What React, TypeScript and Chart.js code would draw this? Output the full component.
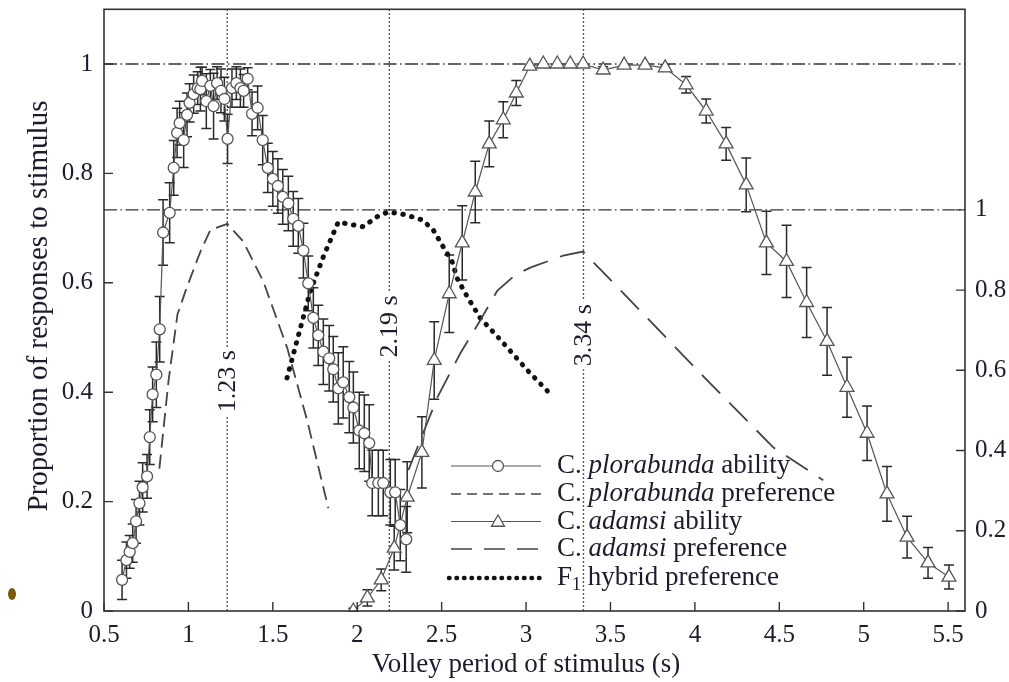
import React, { useEffect, useRef } from 'react';
import { Chart, registerables } from 'chart.js';

Chart.register(...registerables);

// ---------- data ----------
const plorX = [0.607, 0.633, 0.652, 0.670, 0.690, 0.710, 0.729, 0.755, 0.771, 0.788, 0.810, 0.830, 0.850, 0.889, 0.913, 0.933, 0.948, 0.972, 0.992, 1.007, 1.031, 1.055, 1.071, 1.081, 1.106, 1.130, 1.149, 1.170, 1.193, 1.213, 1.232, 1.258, 1.284, 1.308, 1.327, 1.351, 1.377, 1.410, 1.440, 1.470, 1.500, 1.530, 1.559, 1.592, 1.621, 1.651, 1.681, 1.710, 1.740, 1.769, 1.799, 1.834, 1.858, 1.888, 1.917, 1.953, 1.977, 2.012, 2.042, 2.071, 2.089, 2.125, 2.154, 2.196, 2.225, 2.255, 2.290];
const plorY = [0.057, 0.093, 0.108, 0.124, 0.164, 0.197, 0.226, 0.246, 0.318, 0.396, 0.432, 0.515, 0.692, 0.728, 0.810, 0.874, 0.892, 0.861, 0.907, 0.929, 0.945, 0.956, 0.954, 0.969, 0.932, 0.960, 0.923, 0.965, 0.951, 0.936, 0.863, 0.956, 0.965, 0.956, 0.951, 0.973, 0.909, 0.920, 0.861, 0.810, 0.790, 0.777, 0.757, 0.745, 0.717, 0.704, 0.659, 0.599, 0.536, 0.504, 0.474, 0.462, 0.442, 0.407, 0.418, 0.391, 0.372, 0.330, 0.325, 0.307, 0.234, 0.234, 0.234, 0.217, 0.217, 0.157, 0.131];
const plorErr = [0.036, 0.033, 0.03, 0.035, 0.04, 0.04, 0.045, 0.04, 0.05, 0.05, 0.06, 0.06, 0.06, 0.055, 0.05, 0.045, 0.04, 0.05, 0.04, 0.035, 0.035, 0.03, 0.04, 0.025, 0.05, 0.03, 0.06, 0.03, 0.04, 0.04, 0.045, 0.035, 0.03, 0.035, 0.03, 0.02, 0.04, 0.04, 0.045, 0.045, 0.05, 0.05, 0.05, 0.05, 0.05, 0.05, 0.05, 0.05, 0.055, 0.055, 0.06, 0.06, 0.06, 0.065, 0.065, 0.065, 0.065, 0.07, 0.07, 0.07, 0.06, 0.06, 0.06, 0.06, 0.06, 0.065, 0.06];

const adX = [1.977, 2.060, 2.142, 2.219, 2.296, 2.383, 2.456, 2.545, 2.622, 2.699, 2.782, 2.865, 2.942, 3.022, 3.102, 3.185, 3.262, 3.338, 3.457, 3.581, 3.705, 3.824, 3.948, 4.067, 4.185, 4.304, 4.424, 4.543, 4.662, 4.783, 4.901, 5.020, 5.138, 5.257, 5.381, 5.505];
const adY = [0.0, 0.024, 0.057, 0.115, 0.208, 0.290, 0.458, 0.580, 0.673, 0.766, 0.854, 0.898, 0.947, 0.996, 1.0, 1.0, 1.0, 1.0, 0.989, 0.998, 0.998, 0.993, 0.962, 0.914, 0.854, 0.779, 0.673, 0.639, 0.564, 0.493, 0.409, 0.325, 0.214, 0.135, 0.088, 0.062];
const adErr = [0.005, 0.015, 0.02, 0.04, 0.065, 0.065, 0.071, 0.071, 0.068, 0.056, 0.042, 0.033, 0.023, 0, 0, 0, 0, 0, 0.006, 0, 0, 0.006, 0.015, 0.022, 0.03, 0.049, 0.058, 0.066, 0.064, 0.062, 0.055, 0.05, 0.05, 0.038, 0.028, 0.022];

const plorPrefX = [0.828, 0.882, 0.935, 0.988, 1.071, 1.130, 1.231, 1.325, 1.444, 1.586, 1.704, 1.829];
const plorPrefY = [0.355, 0.573, 0.739, 0.804, 0.896, 0.950, 0.965, 0.921, 0.821, 0.655, 0.474, 0.256];

const adPrefX = [2.303, 2.474, 2.610, 2.728, 2.829, 2.936, 3.025, 3.220, 3.338, 3.694, 4.073, 4.464, 4.760];
const adPrefY = [0.351, 0.532, 0.642, 0.724, 0.798, 0.838, 0.856, 0.886, 0.896, 0.741, 0.575, 0.408, 0.326];

const hybX = [1.584, 1.663, 1.722, 1.799, 1.888, 1.941, 2.035, 2.118, 2.183, 2.284, 2.385, 2.450, 2.509, 2.562, 2.592, 2.651, 2.729, 2.829, 2.924, 3.013, 3.155];
const hybY = [0.581, 0.705, 0.797, 0.883, 0.970, 0.965, 0.958, 0.983, 0.995, 0.988, 0.975, 0.950, 0.908, 0.871, 0.829, 0.784, 0.730, 0.685, 0.640, 0.598, 0.536];

const xTicks = [0.5, 1, 1.5, 2, 2.5, 3, 3.5, 4, 4.5, 5, 5.5];
const leftTicks = [0, 0.2, 0.4, 0.6, 0.8, 1];
const rightTicks = [0, 0.2, 0.4, 0.6, 0.8, 1];

const markerLines = [1.23, 2.19, 3.34];
const markerLabels = ['1.23 s', '2.19 s', '3.34 s'];
const markerLabelAt = [0.42, 0.52, 0.504]; // left-axis value of label centre

const xTitle = 'Volley period of stimulus (s)';
const yTitle = 'Proportion of responses to stimulus';

// ---------- styles ----------
const FONT = "'Liberation Serif', 'Times New Roman', serif";
const INK = '#1c1c2c';
const LINE = '#555';

const pts = (xs: number[], ys: number[]) => xs.map((x, i) => ({ x, y: ys[i] }));

function drawTriangle(ctx: CanvasRenderingContext2D, x: number, y: number, r: number) {
  let rad = 0;
  ctx.beginPath();
  ctx.moveTo(x + Math.sin(rad) * r, y - Math.cos(rad) * r);
  rad += (2 * Math.PI) / 3;
  ctx.lineTo(x + Math.sin(rad) * r, y - Math.cos(rad) * r);
  rad += (2 * Math.PI) / 3;
  ctx.lineTo(x + Math.sin(rad) * r, y - Math.cos(rad) * r);
  ctx.closePath();
}

const decor = {
  id: 'decor',
  beforeDatasetsDraw(chart: any) {
    const { ctx, chartArea: a, scales } = chart;
    const sx = scales.x, sy = scales.y, sy2 = scales.y2;
    ctx.save();
    // dash-dot reference lines at 1 on both axes
    ctx.strokeStyle = '#333';
    ctx.lineWidth = 1.3;
    ctx.setLineDash([13, 3.5, 1.5, 3.5]);
    [sy.getPixelForValue(1), sy2.getPixelForValue(1)].forEach((py: number) => {
      ctx.beginPath();
      ctx.moveTo(a.left, py);
      ctx.lineTo(a.right, py);
      ctx.stroke();
    });
    // vertical dotted lines
    ctx.setLineDash([1.4, 2.6]);
    ctx.lineWidth = 1.4;
    ctx.strokeStyle = '#222';
    markerLines.forEach((v) => {
      const px = sx.getPixelForValue(v);
      ctx.beginPath();
      ctx.moveTo(px, a.top);
      ctx.lineTo(px, a.bottom);
      ctx.stroke();
    });
    ctx.setLineDash([]);
    // rotated labels
    ctx.font = `26px ${FONT}`;
    ctx.textAlign = 'center';
    ctx.textBaseline = 'middle';
    markerLines.forEach((v, i) => {
      const px = sx.getPixelForValue(v);
      const py = sy.getPixelForValue(markerLabelAt[i]);
      const w = ctx.measureText(markerLabels[i]).width;
      ctx.save();
      ctx.translate(px, py);
      ctx.rotate(-Math.PI / 2);
      ctx.fillStyle = '#fff';
      ctx.fillRect(-w / 2 - 3, -11, w + 6, 22);
      ctx.fillStyle = INK;
      ctx.fillText(markerLabels[i], 0, 1);
      ctx.restore();
    });
    // error bars
    ctx.strokeStyle = '#2a2a2a';
    ctx.lineWidth = 1.5;
    const bars = (xs: number[], ys: number[], es: number[]) => {
      xs.forEach((x, i) => {
        if (!es[i]) return;
        const px = sx.getPixelForValue(x);
        const top = sy.getPixelForValue(ys[i] + es[i]);
        const bot = sy.getPixelForValue(Math.max(0, ys[i] - es[i]));
        ctx.beginPath();
        ctx.moveTo(px, top);
        ctx.lineTo(px, bot);
        ctx.moveTo(px - 5, top);
        ctx.lineTo(px + 5, top);
        ctx.moveTo(px - 5, bot);
        ctx.lineTo(px + 5, bot);
        ctx.stroke();
      });
    };
    bars(plorX, plorY, plorErr);
    bars(adX, adY, adErr);
    ctx.restore();
  },
  afterDraw(chart: any) {
    const { ctx, chartArea: a, scales } = chart;
    const sx = scales.x, sy = scales.y, sy2 = scales.y2;
    ctx.save();
    // frame
    ctx.strokeStyle = '#333';
    ctx.lineWidth = 1.6;
    ctx.setLineDash([]);
    ctx.strokeRect(a.left, a.top, a.right - a.left, a.bottom - a.top);
    // inward ticks
    ctx.lineWidth = 1.4;
    ctx.beginPath();
    xTicks.forEach((v) => {
      const px = sx.getPixelForValue(v);
      ctx.moveTo(px, a.bottom);
      ctx.lineTo(px, a.bottom - 9);
    });
    leftTicks.forEach((v) => {
      const py = sy.getPixelForValue(v);
      ctx.moveTo(a.left, py);
      ctx.lineTo(a.left + 9, py);
    });
    rightTicks.forEach((v) => {
      const py = sy2.getPixelForValue(v);
      ctx.moveTo(a.right, py);
      ctx.lineTo(a.right - 9, py);
    });
    ctx.stroke();

    // axis titles
    ctx.fillStyle = INK;
    ctx.textAlign = 'center';
    ctx.textBaseline = 'middle';
    ctx.font = `27px ${FONT}`;
    ctx.fillText(xTitle, 526, 665);
    ctx.save();
    ctx.translate(39, 306);
    ctx.rotate(-Math.PI / 2);
    ctx.font = `29px ${FONT}`;
    ctx.fillText(yTitle, 0, 0);
    ctx.restore();

    // legend
    const lx0 = 451, lx1 = 541, mx = 498, tx = 557;
    const rows = [466, 494, 521.5, 549, 578];
    ctx.strokeStyle = LINE;
    ctx.lineWidth = 1.2;
    ctx.beginPath(); ctx.moveTo(lx0, rows[0]); ctx.lineTo(lx1, rows[0]); ctx.stroke();
    ctx.beginPath(); ctx.arc(mx, rows[0], 5.5, 0, Math.PI * 2);
    ctx.fillStyle = '#fff'; ctx.fill(); ctx.lineWidth = 1.3; ctx.stroke();
    ctx.strokeStyle = '#444'; ctx.lineWidth = 1.7; ctx.setLineDash([10, 6]);
    ctx.beginPath(); ctx.moveTo(lx0, rows[1]); ctx.lineTo(lx1, rows[1]); ctx.stroke();
    ctx.setLineDash([]); ctx.strokeStyle = LINE; ctx.lineWidth = 1.2;
    ctx.beginPath(); ctx.moveTo(lx0, rows[2]); ctx.lineTo(lx1, rows[2]); ctx.stroke();
    drawTriangle(ctx, mx, rows[2] + 1, 7.5);
    ctx.fillStyle = '#fff'; ctx.fill(); ctx.lineWidth = 1.3; ctx.stroke();
    ctx.strokeStyle = '#444'; ctx.lineWidth = 1.7; ctx.setLineDash([21, 12]);
    ctx.beginPath(); ctx.moveTo(lx0, rows[3]); ctx.lineTo(lx1, rows[3]); ctx.stroke();
    ctx.strokeStyle = '#111'; ctx.lineWidth = 4.5; ctx.lineCap = 'round'; ctx.setLineDash([0.5, 7]);
    ctx.beginPath(); ctx.moveTo(lx0 - 2, rows[4]); ctx.lineTo(lx1, rows[4]); ctx.stroke();
    ctx.setLineDash([]); ctx.lineCap = 'butt';

    const texts: [string, boolean][][] = [
      [['C. ', false], ['plorabunda', true], [' ability', false]],
      [['C. ', false], ['plorabunda', true], [' preference', false]],
      [['C. ', false], ['adamsi', true], [' ability', false]],
      [['C. ', false], ['adamsi', true], [' preference', false]],
    ];
    ctx.fillStyle = INK;
    ctx.textBaseline = 'middle';
    ctx.textAlign = 'left';
    texts.forEach((parts, i) => {
      let x = tx;
      parts.forEach(([s, it]) => {
        ctx.font = `${it ? 'italic ' : ''}27px ${FONT}`;
        ctx.fillText(s, x, rows[i]);
        x += ctx.measureText(s).width;
      });
    });
    let x = tx;
    ctx.font = `27px ${FONT}`;
    ctx.fillText('F', x, rows[4]);
    x += ctx.measureText('F').width;
    ctx.font = `18px ${FONT}`;
    ctx.fillText('1', x, rows[4] + 7);
    x += ctx.measureText('1').width;
    ctx.font = `27px ${FONT}`;
    ctx.fillText(' hybrid preference', x, rows[4]);

    // small mark at left edge of the source image
    ctx.fillStyle = '#7a5a0c';
    ctx.beginPath();
    ctx.ellipse(12, 594, 4, 6, 0, 0, Math.PI * 2);
    ctx.fill();
    ctx.restore();
  },
};

export default function App() {
  const ref = useRef<HTMLCanvasElement>(null);
  useEffect(() => {
    if (!ref.current) return;
    const tickFont = { family: FONT, size: 25 };
    const chart = new Chart(ref.current, {
      type: 'scatter',
      data: {
        datasets: [
          {
            label: 'C. plorabunda ability',
            data: pts(plorX, plorY),
            yAxisID: 'y',
            showLine: true,
            borderColor: LINE,
            borderWidth: 1.2,
            pointStyle: 'circle',
            pointRadius: 5.5,
            pointBackgroundColor: '#fff',
            pointBorderColor: LINE,
            pointBorderWidth: 1.3,
          },
          {
            label: 'C. plorabunda preference',
            data: pts(plorPrefX, plorPrefY),
            yAxisID: 'y2',
            showLine: true,
            borderColor: '#444',
            borderWidth: 1.8,
            borderDash: [14, 7],
            pointRadius: 0,
          },
          {
            label: 'C. adamsi ability',
            data: pts(adX, adY),
            yAxisID: 'y',
            showLine: true,
            borderColor: LINE,
            borderWidth: 1.2,
            pointStyle: 'triangle',
            pointRadius: 8,
            pointBackgroundColor: '#fff',
            pointBorderColor: LINE,
            pointBorderWidth: 1.3,
          },
          {
            label: 'C. adamsi preference',
            data: pts(adPrefX, adPrefY),
            yAxisID: 'y2',
            showLine: true,
            borderColor: '#444',
            borderWidth: 1.8,
            borderDash: [26, 13],
            pointRadius: 0,
          },
          {
            label: 'F1 hybrid preference',
            data: pts(hybX, hybY),
            yAxisID: 'y2',
            showLine: true,
            borderColor: '#111',
            borderWidth: 5,
            borderDash: [0.5, 8.5],
            borderCapStyle: 'round',
            pointRadius: 0,
          },
        ],
      } as any,
      options: {
        animation: false,
        responsive: false,
        devicePixelRatio: 1,
        layout: { padding: { left: 24, top: 8, right: 0, bottom: 0 } },
        plugins: { legend: { display: false }, tooltip: { enabled: false } },
        elements: { line: { tension: 0 } },
        scales: {
          x: {
            type: 'linear',
            position: 'bottom',
            min: 0.5,
            max: 5.6,
            afterBuildTicks: (s: any) => { s.ticks = xTicks.map((v) => ({ value: v })); },
            afterFit: (s: any) => { s.height = 71; s.paddingLeft = 0; s.paddingRight = 0; },
            grid: { display: false, drawTicks: false },
            border: { display: false },
            ticks: { font: tickFont, color: INK, padding: 9, maxRotation: 0, autoSkip: false, callback: (v: any) => String(v) },
          },
          y: {
            type: 'linear',
            position: 'left',
            min: 0,
            max: 1.1,
            afterBuildTicks: (s: any) => { s.ticks = leftTicks.map((v) => ({ value: v })); },
            afterFit: (s: any) => { s.width = 80; s.paddingTop = 0; s.paddingBottom = 0; },
            grid: { display: false, drawTicks: false },
            border: { display: false },
            ticks: { font: tickFont, color: INK, padding: 11, autoSkip: false, callback: (v: any) => String(v) },
          },
          y2: {
            type: 'linear',
            position: 'right',
            min: 0,
            max: 1.5,
            afterBuildTicks: (s: any) => { s.ticks = rightTicks.map((v) => ({ value: v })); },
            afterFit: (s: any) => { s.width = 44; s.paddingTop = 0; s.paddingBottom = 0; },
            grid: { display: false, drawTicks: false },
            border: { display: false },
            ticks: { font: tickFont, color: INK, padding: 10, autoSkip: false, callback: (v: any) => String(v) },
          },
        },
      } as any,
      plugins: [decor],
    });
    return () => chart.destroy();
  }, []);

  return (
    <div style={{ position: 'fixed', left: 0, top: 0, width: 1009, height: 682, background: '#fff' }}>
      <canvas ref={ref} width={1009} height={682} style={{ display: 'block', width: 1009, height: 682 }} />
    </div>
  );
}
